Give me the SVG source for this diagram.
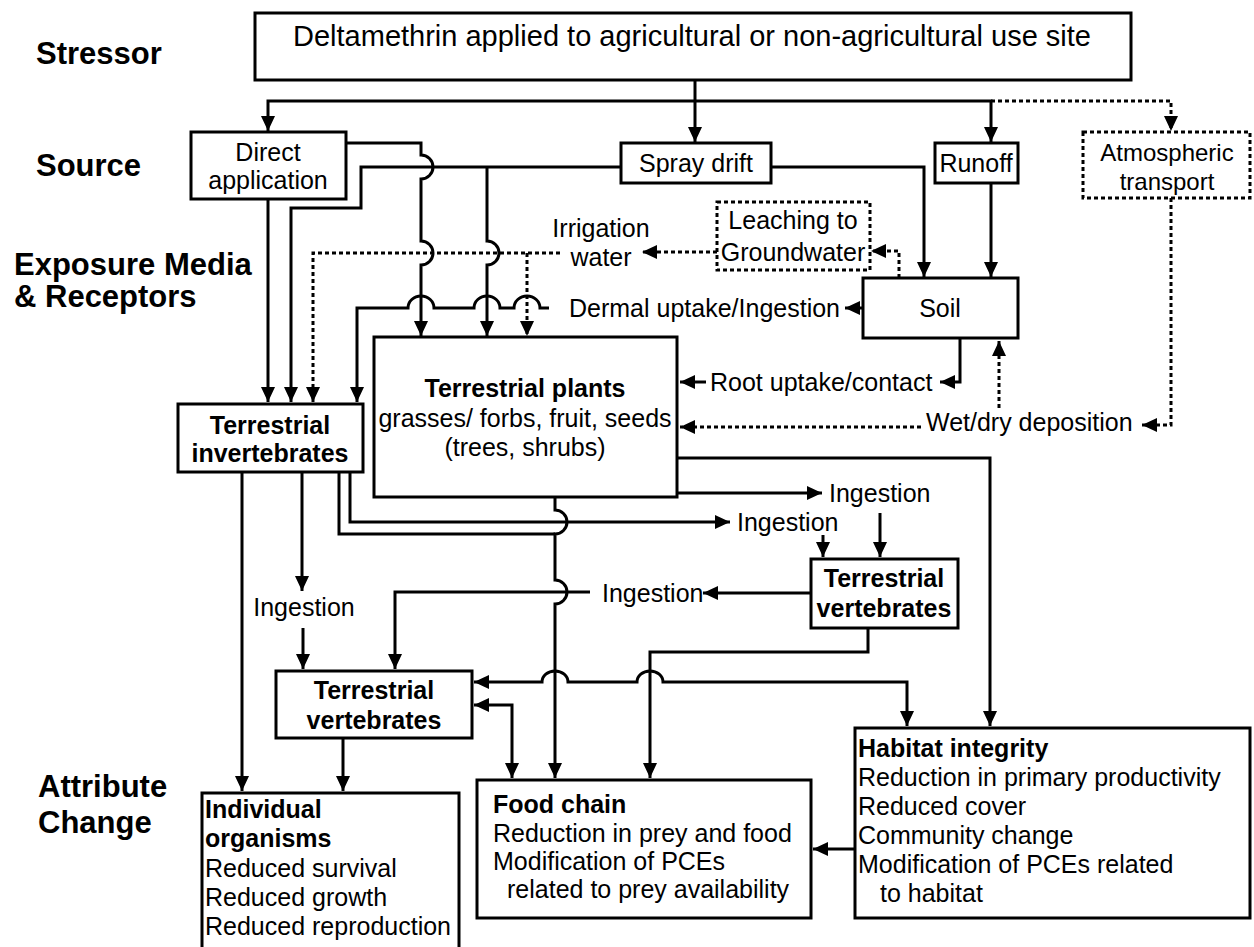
<svg xmlns="http://www.w3.org/2000/svg" width="1254" height="947" viewBox="0 0 1254 947">
<style>
text{font-family:"Liberation Sans",Arial,sans-serif;font-size:25px;fill:#000}
.b{font-weight:bold}
.h{font-weight:bold;font-size:31px}
.m{text-anchor:middle}
.e{text-anchor:end}
.box{fill:#fff;stroke:#000;stroke-width:3}
.dbox{fill:#fff;stroke:#000;stroke-width:3;stroke-dasharray:4 3}
.c{fill:none;stroke:#000;stroke-width:3}
.d{fill:none;stroke:#000;stroke-width:3;stroke-dasharray:4 3}
.a{marker-end:url(#ah)}
.a2{marker-start:url(#ah);marker-end:url(#ah)}
</style>
<defs>
<marker id="ah" markerUnits="userSpaceOnUse" markerWidth="15" markerHeight="14" refX="15" refY="7" orient="auto-start-reverse">
<path d="M0,0 L15,7 L0,14 Z" fill="#000"/>
</marker>
</defs>
<rect width="1254" height="947" fill="#fff"/>
<g id="labels">
<text class="h" x="36" y="64">Stressor</text>
<text class="h" x="36" y="176">Source</text>
<text class="h" x="14" y="275">Exposure Media</text>
<text class="h" x="14" y="307">&amp; Receptors</text>
<text class="h" x="38" y="797">Attribute</text>
<text class="h" x="38" y="833">Change</text>
</g>
<g id="connectors">
<path class="c" d="M695,80 V101"/>
<path class="c a" d="M695,101 H268 V131"/>
<path class="c a" d="M695,101 V142"/>
<path class="c a" d="M695,101 H991 V142"/>
<path class="d a" d="M991,101 H1171 V131"/>
<path class="c a" d="M346,143 H421 V155 A12,12 0 0 1 421,179 V241 A12,12 0 0 1 421,265 V336"/>
<path class="c a" d="M268,199 V402"/>
<path class="c a" d="M621,167 H361 V208 H291 V402"/>
<path class="c a" d="M487,167 V241 A12,12 0 0 1 487,265 V336"/>
<path class="c a" d="M771,167 H924 V277"/>
<path class="c a" d="M991,183 V277"/>
<path class="d a" d="M899,278 V251 H871"/>
<path class="d a" d="M717,252 H642"/>
<path class="d a" d="M560,253 H313 V402"/>
<path class="d a" d="M527,253 V336"/>
<path class="c a" d="M863,308 H845"/>
<path class="c a" d="M549,308 H540 A13,12 0 0 0 514,308 H500 A13,12 0 0 0 474,308 H434 A13,12 0 0 0 408,308 H357 V402"/>
<path class="c a" d="M960,338 V382 H940"/>
<path class="c a" d="M706,382 H680"/>
<path class="d a" d="M1171,198 V425 H1142"/>
<path class="d a" d="M921,427 H680"/>
<path class="d a" d="M999,408 V341"/>
<path class="c a" d="M677,458 H990 V726"/>
<path class="c a" d="M677,493 H822"/>
<path class="c a" d="M880,513 V557"/>
<path class="c a" d="M350,472 V522 H730"/>
<path class="c a" d="M823,535 V557"/>
<path class="c" d="M339,472 V534 H555"/>
<path class="c a" d="M555,497 V510 A12,12 0 0 1 555,534 V580 A12,12 0 0 1 555,604 V778"/>
<path class="c a" d="M811,593 H703"/>
<path class="c a" d="M590,592 H395 V669"/>
<path class="c a" d="M302,472 V591"/>
<path class="c a" d="M303,628 V669"/>
<path class="c a" d="M242,472 V791"/>
<path class="c a" d="M343,738 V791"/>
<path class="c a2" d="M474,682 H542 A13,11 0 0 1 568,682 H637 A13,11 0 0 1 663,682 H907 V726"/>
<path class="c a2" d="M474,705 H512 V778"/>
<path class="c a" d="M868,628 V652 H650 V778"/>
<path class="c a" d="M855,849 H813"/>
</g>
<g id="stressor">
<rect class="box" x="255" y="13" width="876" height="67"/>
<text class="m" x="692" y="46" style="font-size:29px">Deltamethrin applied to agricultural or non-agricultural use site</text>
</g>
<g id="direct-application">
<rect class="box" x="191" y="132" width="155" height="67"/>
<text class="m" x="268" y="161">Direct</text>
<text class="m" x="268" y="189">application</text>
</g>
<g id="spray-drift">
<rect class="box" x="621" y="143" width="150" height="40"/>
<text class="m" x="696" y="172">Spray drift</text>
</g>
<g id="runoff">
<rect class="box" x="935" y="143" width="83" height="40"/>
<text class="m" x="976" y="172">Runoff</text>
</g>
<g id="atmospheric-transport">
<rect class="dbox" x="1083" y="132" width="167" height="66"/>
<text class="m" x="1167" y="161" style="font-size:24px">Atmospheric</text>
<text class="m" x="1167" y="190" style="font-size:24px">transport</text>
</g>
<g id="leaching">
<rect class="dbox" x="717" y="202" width="153" height="68"/>
<text class="m" x="793" y="229">Leaching to</text>
<text class="m" x="793" y="261">Groundwater</text>
</g>
<g id="irrigation-water">
<text class="m" x="601" y="237">Irrigation</text>
<text class="m" x="601" y="266">water</text>
</g>
<g id="soil">
<rect class="box" x="863" y="278" width="155" height="60"/>
<text class="m" x="940" y="317">Soil</text>
</g>
<g id="dermal-label"><text class="e" x="840" y="317">Dermal uptake/Ingestion</text></g>
<g id="root-label"><text x="710" y="391">Root uptake/contact</text></g>
<g id="deposition-label"><text x="926" y="431">Wet/dry deposition</text></g>
<g id="terrestrial-plants">
<rect class="box" x="374" y="337" width="303" height="160"/>
<text class="m b" x="525" y="397">Terrestrial plants</text>
<text class="m" x="525" y="427">grasses/ forbs, fruit, seeds</text>
<text class="m" x="525" y="456">(trees, shrubs)</text>
</g>
<g id="terrestrial-invertebrates">
<rect class="box" x="178" y="404" width="185" height="68"/>
<text class="m b" x="270" y="434">Terrestrial</text>
<text class="m b" x="270" y="462">invertebrates</text>
</g>
<g id="ingestion-1"><text x="829" y="502">Ingestion</text></g>
<g id="ingestion-2"><text x="737" y="531">Ingestion</text></g>
<g id="ingestion-3"><text x="602" y="602">Ingestion</text></g>
<g id="ingestion-4"><text class="m" x="304" y="616">Ingestion</text></g>
<g id="terrestrial-vertebrates-upper">
<rect class="box" x="811" y="559" width="147" height="69"/>
<text class="m b" x="884" y="587">Terrestrial</text>
<text class="m b" x="884" y="617">vertebrates</text>
</g>
<g id="terrestrial-vertebrates-lower">
<rect class="box" x="276" y="671" width="196" height="67"/>
<text class="m b" x="374" y="699">Terrestrial</text>
<text class="m b" x="374" y="729">vertebrates</text>
</g>
<g id="individual-organisms">
<rect class="box" x="202" y="793" width="257" height="160"/>
<text class="b" x="205" y="818">Individual</text>
<text class="b" x="205" y="847">organisms</text>
<text x="205" y="877">Reduced survival</text>
<text x="205" y="906">Reduced growth</text>
<text x="205" y="935">Reduced reproduction</text>
</g>
<g id="food-chain">
<rect class="box" x="477" y="780" width="334" height="138"/>
<text class="b" x="493" y="813">Food chain</text>
<text x="493" y="842">Reduction in prey and food</text>
<text x="493" y="870">Modification of PCEs</text>
<text x="507" y="898">related to prey availability</text>
</g>
<g id="habitat-integrity">
<rect class="box" x="855" y="728" width="395" height="190"/>
<text class="b" x="858" y="757">Habitat integrity</text>
<text x="858" y="786">Reduction in primary productivity</text>
<text x="858" y="815">Reduced cover</text>
<text x="858" y="844">Community change</text>
<text x="858" y="873">Modification of PCEs related</text>
<text x="880" y="902">to habitat</text>
</g>
</svg>
